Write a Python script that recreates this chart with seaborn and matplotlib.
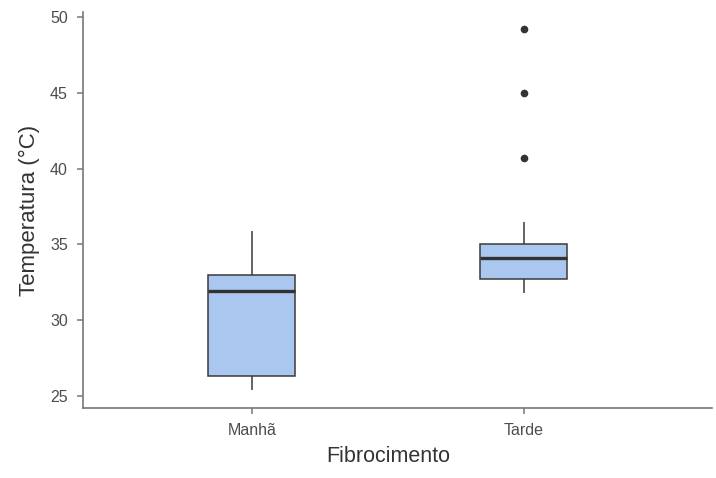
import numpy as np
import pandas as pd
import seaborn as sns
import matplotlib.pyplot as plt

# ===== Data =====
periodos = ['Manhã', 'Tarde']
temp_manha = [25.4, 26.3, 31.9, 33.0, 35.9]
temp_tarde = [31.8, 32.1, 32.3, 32.5, 32.7, 33.1, 33.5, 33.8, 34.1,
              34.3, 34.6, 34.8, 35.0, 36.5, 40.7, 45.0, 49.2]
y_ticks = [25, 30, 35, 40, 45, 50]

df = pd.DataFrame({
    'periodo': ['Manhã'] * len(temp_manha) + ['Tarde'] * len(temp_tarde),
    'temperatura': temp_manha + temp_tarde,
})

# ===== Figure =====
sns.set_style('ticks')
plt.rcParams['font.family'] = ['Liberation Sans', 'DejaVu Sans']

fig = plt.figure(figsize=(7.16, 4.78), dpi=100)
ax = fig.add_axes([0.116, 0.146, 0.878, 0.829])

sns.boxplot(data=df, x='periodo', y='temperatura', order=periodos, ax=ax,
            width=0.32, color='#aac7f0', saturation=1, linecolor='#3a3a3a',
            linewidth=1.1, showcaps=False, whis=1.5,
            medianprops=dict(color='#333333', linewidth=2.4),
            flierprops=dict(marker='o', markersize=4.5, markerfacecolor='#333333',
                            markeredgecolor='#333333'))

ax.set_xlim(-0.62, 1.69)
ax.set_ylim(24.2, 50.33)
ax.set_yticks(y_ticks)
ax.set_xlabel('Fibrocimento', fontsize=15.5, color='#333333')
ax.set_ylabel('Temperatura (°C)', fontsize=16, color='#333333', labelpad=7)
ax.xaxis.set_label_coords(0.485, -0.095)

for side in ['top', 'right']:
    ax.spines[side].set_visible(False)
for side in ['left', 'bottom']:
    ax.spines[side].set_color('#777777')
    ax.spines[side].set_linewidth(1.2)
ax.tick_params(axis='both', colors='#777777', length=4, width=1.1,
               labelsize=11.5, labelcolor='#4d4d4d')
ax.tick_params(axis='y', pad=7)
ax.tick_params(axis='x', pad=7)

fig.savefig('out.png', dpi=100)
